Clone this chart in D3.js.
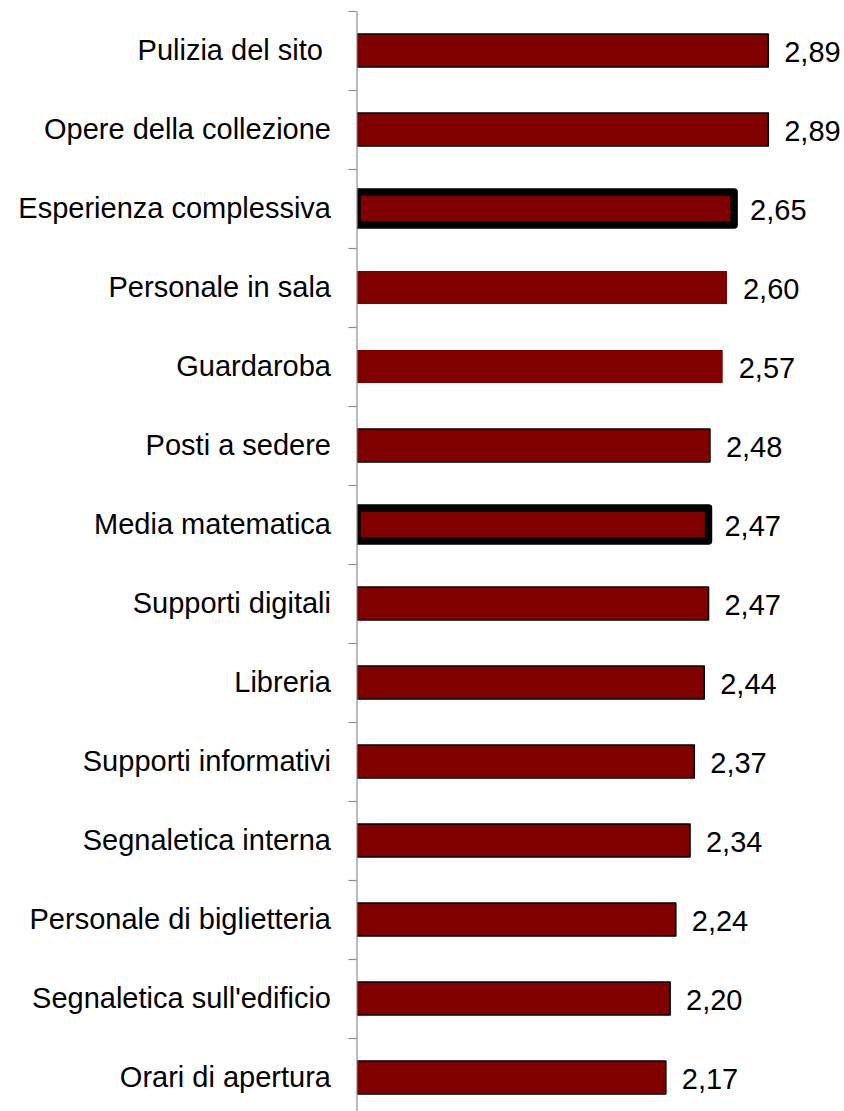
<!DOCTYPE html>
<html>
<head>
<meta charset="utf-8">
<script src="https://cdn.jsdelivr.net/npm/d3@7"></script>
<style>
  html, body { margin: 0; padding: 0; background: #fff; }
  svg { display: block; }
  text { font-family: "Liberation Sans", Arial, sans-serif; fill: #000; }
</style>
</head>
<body>
<svg id="chart" width="844" height="1111"></svg>
<script>
// Satisfaction scores per service aspect (scale 1-4)
const categories = [
  "Pulizia del sito ",
  "Opere della collezione",
  "Esperienza complessiva",
  "Personale in sala",
  "Guardaroba",
  "Posti a sedere",
  "Media matematica",
  "Supporti digitali",
  "Libreria",
  "Supporti informativi",
  "Segnaletica interna",
  "Personale di biglietteria",
  "Segnaletica sull'edificio",
  "Orari di apertura"
];
const scores = [2.89, 2.89, 2.65, 2.60, 2.57, 2.48, 2.47, 2.47, 2.44, 2.37, 2.34, 2.24, 2.20, 2.17];

// Summary rows get a heavy outline; a couple of rows are drawn without outline
const summaryRows = ["Esperienza complessiva", "Media matematica"];
const plainRows = ["Personale in sala", "Guardaroba"];

const rows = categories.map((c, i) => ({ name: c, value: scores[i] }));

const svg = d3.select("#chart");
const W = 844, H = 1111;

const axisX = 356.5;
const plotTop = 11, step = 79;
const pad = 0.582;

const x = d3.scaleLinear().domain([0, 3]).range([357, 357 + 3 * 142.3]);
const y = d3.scaleBand()
  .domain(categories)
  .range([plotTop, plotTop + step * categories.length])
  .paddingInner(pad)
  .paddingOuter(pad / 2);

// Boundary scale for the category tick marks
const yEdge = d3.scaleLinear().domain([0, categories.length]).range(y.range());

const itLocale = d3.formatLocale({ decimal: ",", thousands: ".", grouping: [3], currency: ["€", ""] });
const fmt = itLocale.format(".2f");

// Clip bars at the category axis
svg.append("defs").append("clipPath").attr("id", "plotClip")
  .append("rect").attr("x", 357).attr("y", 0).attr("width", W - 357).attr("height", H);

const bars = svg.append("g").attr("clip-path", "url(#plotClip)");
bars.selectAll("rect")
  .data(rows)
  .join("rect")
  .attr("x", x(0))
  .attr("y", d => y(d.name))
  .attr("width", d => x(d.value) - x(0))
  .attr("height", y.bandwidth())
  .attr("fill", "#800000")
  .attr("stroke", d => plainRows.includes(d.name) ? "none" : "#000")
  .attr("stroke-width", d => summaryRows.includes(d.name) ? 7.5 : 1.6)
  .attr("stroke-linejoin", "round");

// Category axis: vertical line with ticks at band boundaries
const axis = d3.axisLeft(yEdge)
  .tickValues(d3.range(categories.length + 1))
  .tickFormat("")
  .tickSize(8)
  .tickSizeOuter(0);
const gAxis = svg.append("g").attr("transform", `translate(${axisX},0)`).call(axis);
gAxis.select(".domain").attr("stroke", "#8c8c8c").attr("stroke-width", 1.2);
gAxis.selectAll(".tick line").attr("stroke", "#8c8c8c").attr("stroke-width", 1.2);

// Category labels
svg.append("g").selectAll("text")
  .data(rows)
  .join("text")
  .attr("x", 331)
  .attr("y", d => y(d.name) + y.bandwidth() / 2 + 9.8)
  .attr("text-anchor", "end")
  .attr("font-size", 29)
  .attr("xml:space", "preserve")
  .style("white-space", "pre")
  .text(d => d.name);

// Value labels
svg.append("g").selectAll("text")
  .data(rows)
  .join("text")
  .attr("x", d => x(d.value) + 16)
  .attr("y", d => y(d.name) + y.bandwidth() / 2 + 11.5)
  .attr("font-size", 29)
  .text(d => fmt(d.value));
</script>
</body>
</html>
